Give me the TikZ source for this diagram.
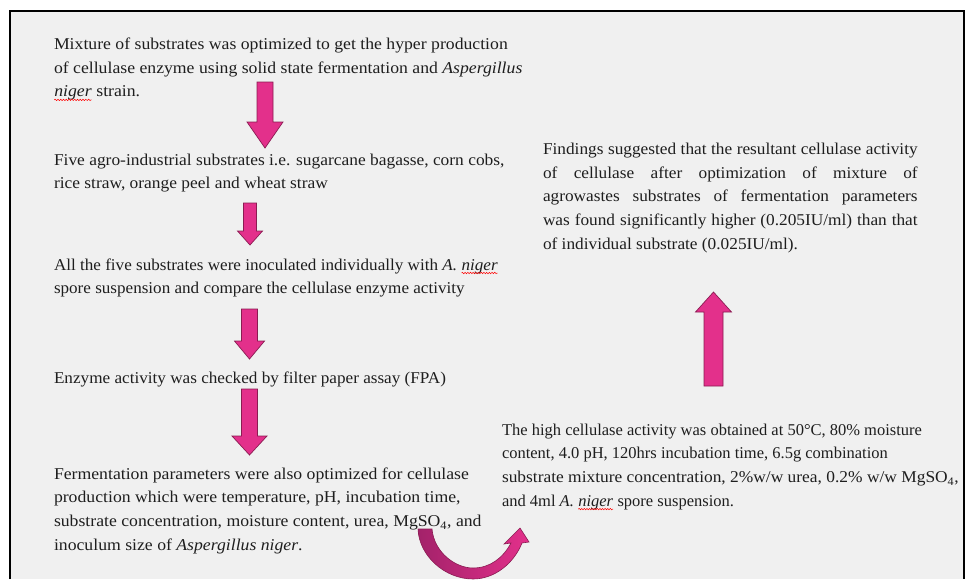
\documentclass[tikz,border=0pt]{standalone}
\usepackage{fontspec}
\setmainfont{Liberation Serif}
\usetikzlibrary{calc,decorations.pathmorphing}
\definecolor{boxgray}{HTML}{F0F0F0}
\definecolor{pinkfill}{HTML}{E3308B}
\definecolor{pinkdark}{HTML}{A3226A}
\definecolor{pinkedge}{HTML}{8A1C52}
\definecolor{ink}{HTML}{1E1E1E}
\newcommand\fst{\rule{0pt}{17pt}}
\newcommand\sperr[1]{\tikz[baseline=(w.base)]{\node[anchor=base,inner sep=0pt,outer sep=0pt](w){#1};\draw[red,line width=0.5pt,decorate,decoration={snake,amplitude=0.7pt,segment length=2.6pt}] ([yshift=-3pt]w.base west) -- ([yshift=-3pt]w.base east);}}
\newcommand\blockarr[5]{%
  \path (#1) coordinate (ba-s) (#2) coordinate (ba-e);
  \path ($(ba-e)!#5!(ba-s)$) coordinate (ba-h);
  \draw[barrow] ($(ba-s)!#3!90:(ba-e)$) -- ($(ba-h)!#3!90:(ba-e)$) -- ($(ba-h)!#4!90:(ba-e)$) -- (ba-e) -- ($(ba-h)!#4!-90:(ba-e)$) -- ($(ba-h)!#3!-90:(ba-e)$) -- ($(ba-s)!#3!-90:(ba-e)$) -- cycle;}
\begin{document}
\begin{tikzpicture}[x=1pt,y=-1pt,
  txt/.style={anchor=north west,inner sep=0pt,outer sep=0pt,align=left,text=ink,font=\fontsize{16.5}{23.7}\selectfont,xscale=#1,transform shape},
  txt/.default=1,
  barrow/.style={fill=pinkfill,draw=pinkedge,line width=0.7pt,line join=miter}]
\useasboundingbox (0,0) rectangle (966,579);
\fill[boxgray] (10,11) rectangle (964,579);
% text blocks
\node[txt=1.073] (t1) at (54,32.5) {\fst Mixture of substrates was optimized to get the hyper production\\ of cellulase enzyme using solid state fermentation and \textit{Aspergillus}\\ \sperr{\textit{niger}} strain.};
\node[txt=1.055] (t2) at (54,148) {\fst Five agro-industrial substrates i.e. sugarcane bagasse, corn cobs,\\ rice straw, orange peel and wheat straw};
\node[txt=1.036] (t3) at (54,253) {\fst All the five substrates were inoculated individually with \textit{A.} \sperr{\textit{niger}}\\ spore suspension and compare the cellulase enzyme activity};
\node[txt=1.04] (t4) at (54,366) {\fst Enzyme activity was checked by filter paper assay (FPA)};
\node[txt=1.073] (t5) at (54,462) {\fst Fermentation parameters were also optimized for cellulase\\ production which were temperature, pH, incubation time,\\ substrate concentration, moisture content, urea, MgSO\textsubscript{4}, and\\ inoculum size of \textit{Aspergillus niger}.};
\node[txt=1] (t6) at (502,418) {\fst The high cellulase activity was obtained at 50°C, 80\% moisture\\ content, 4.0 pH, 120hrs incubation time, 6.5g combination\\ \scalebox{1.055}[1]{substrate mixture concentration, 2\%w/w urea, 0.2\% w/w MgSO\textsubscript{4},}\\ and 4ml \textit{A.} \sperr{\textit{niger}} spore suspension.};
\node[txt=1.048] (t7) at (543,137.5) {\fst\makebox[357.5pt][s]{Findings suggested that the resultant cellulase activity}\\ \makebox[357.5pt][s]{of cellulase after optimization of mixture of}\\ \makebox[357.5pt][s]{agrowastes substrates of fermentation parameters}\\ \makebox[357.5pt][s]{was found significantly higher (0.205IU/ml) than that}\\ of individual substrate (0.025IU/ml).};
% frame
\draw[line width=1.6pt] (10,579) -- (10,11) -- (964,11) -- (964,579);
% block arrows
\coordinate (a1s) at (265,82);    \coordinate (a1e) at (265,148);
\coordinate (a2s) at (250,203);   \coordinate (a2e) at (250,245);
\coordinate (a3s) at (249.5,309); \coordinate (a3e) at (249.5,359);
\coordinate (a4s) at (249.5,389); \coordinate (a4e) at (249.5,455);
\coordinate (a5s) at (713.5,386); \coordinate (a5e) at (713.5,292);
\blockarr{a1s}{a1e}{8pt}{18pt}{26pt}
\blockarr{a2s}{a2e}{6.5pt}{12.5pt}{14pt}
\blockarr{a3s}{a3e}{8pt}{15pt}{18pt}
\blockarr{a4s}{a4e}{8pt}{17.5pt}{19pt}
\blockarr{a5s}{a5e}{9.5pt}{18pt}{20pt}
% curved arrow from t5 to t6
\draw[draw=pinkedge,line width=0.6pt,left color=pinkdark,right color=pinkfill,line join=miter]
  (418,529) .. controls (419,556) and (445,579) .. (473,579)
  .. controls (495,579) and (514,563) .. (522,543)
  -- (529,542) -- (520,528) -- (504,544) -- (511,543)
  .. controls (503,558) and (490,568) .. (473,568)
  .. controls (455,568) and (434,552) .. (432,529) -- cycle;
\end{tikzpicture}
\end{document}
